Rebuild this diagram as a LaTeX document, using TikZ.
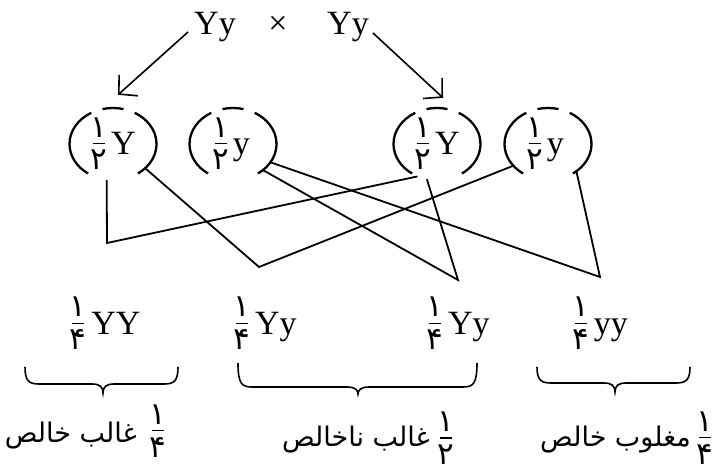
\documentclass[tikz,border=0pt]{standalone}
\usepackage{fontspec}
\setmainfont{Liberation Serif}
\newfontfamily\arabicfont[Script=Arabic]{DejaVu Sans}
\TeXXeTstate=1
\usetikzlibrary{arrows.meta,shapes.geometric}
\newcommand\dig[1]{\mbox{\arabicfont\fontsize{31}{31}\selectfont #1}}
\newcommand\fr[3][-15pt]{\raisebox{#1}{\vbox{\offinterlineskip\halign{\hfil##\hfil\cr\dig{#2}\cr\noalign{\kern6pt}\rule{12pt}{1.2pt}\cr\noalign{\kern6pt}\dig{#3}\cr}}}}
\newcommand\mybrace[6]{\draw[brc] (#1,#4) .. controls (#1,#5+3) and (#1+4,#5) .. (#1+14,#5) -- (#3-11,#5) .. controls (#3-3,#5) and (#3,#5-3) .. (#3,#6) .. controls (#3,#5-3) and (#3+3,#5) .. (#3+11,#5) -- (#2-14,#5) .. controls (#2-4,#5) and (#2,#5+3) .. (#2,#4);}
\begin{document}
\begin{tikzpicture}[x=1pt,y=1pt,
  lat/.style={font=\fontsize{34}{40}\selectfont, inner sep=0pt, anchor=base},
  arl/.style={font=\arabicfont\fontsize{27}{30}\selectfont, inner sep=0pt, anchor=base east},
  frn/.style={inner sep=0pt},
  arcline/.style={line width=2.3pt},
  conn/.style={line width=1.8pt},
  arr/.style={line width=1.6pt,-{Straight Barb[length=13pt,width=28pt,line width=1.6pt]}},
  brc/.style={line width=1.6pt},
  gam/.style={ellipse, minimum width=87pt, minimum height=72pt, inner sep=0pt}]
\useasboundingbox (0,0) rectangle (713,474);
% parents
\node[lat] (p1) at (215,439) {Yy};
\node[lat] (x) at (278,439) {×};
\node[lat] (p2) at (348,439) {Yy};
% gametes
\node[gam] (e1) at (113,330) {};
\node[gam] (e2) at (233,330) {};
\node[gam] (e3) at (437,330) {};
\node[gam] (e4) at (548,330) {};
\foreach \e in {e1,e2,e3,e4}{
  \draw[arcline] (\e.center) ++(120:43.5 and 36) arc[start angle=120,end angle=235,x radius=43.5,y radius=36];
  \draw[arcline] (\e.center) ++(-55:43.5 and 36) arc[start angle=-55,end angle=60,x radius=43.5,y radius=36];
  \draw[arcline] (\e.center) ++(76:43.5 and 36) arc[start angle=76,end angle=104,x radius=43.5,y radius=36];
}
\node[lat] (t1) at (113,319) {\fr{۱}{۲}\kern4pt Y};
\node[lat] (t2) at (231,319) {\fr{۱}{۲}\kern4pt y};
\node[lat] (t3) at (437,319) {\fr{۱}{۲}\kern4pt Y};
\node[lat] (t4) at (545,319) {\fr{۱}{۲}\kern4pt y};
% arrows
\draw[arr] ([shift={(-6pt,3pt)}]p1.base west) -- ([shift={(5pt,13pt)}]e1.north);
\draw[arr] ([shift={(4pt,2pt)}]p2.base east) -- ([shift={(6pt,10pt)}]e3.north);
% junctions
\coordinate (j1) at (107,231);
\coordinate (j2) at (259,207);
\coordinate (j3) at (458,194);
\coordinate (j4) at (600,197);
\draw[conn] (e1.260) -- (j1) -- (e3.239);
\draw[conn] (e1.-37) -- (j2) -- (e4.212);
\draw[conn] (e2.-41) -- (j3) -- (e3.254);
\draw[conn] (e2.-26) -- (j4) -- (e4.-44);
% offspring
\node[lat] (o1) at (105,139) {\fr{۱}{۴}\kern5pt YY};
\node[lat] (o2) at (265,139) {\fr{۱}{۴}\kern5pt Yy};
\node[lat] (o3) at (458,139) {\fr{۱}{۴}\kern5pt Yy};
\node[lat] (o4) at (600,139) {\fr{۱}{۴}\kern5pt yy};
% braces
\mybrace{25}{178}{103}{107}{90}{81}
\mybrace{238}{477}{358}{111}{87}{80}
\mybrace{537}{690}{615}{107}{91}{82}
% labels
\node[arl] (l1) at (137,31) {\beginR غالب خالص\endR};
\node[frn] (f1) at (158,43) {\fr[0pt]{۱}{۴}};
\node[arl] (l2) at (430,27) {\beginR غالب ناخالص\endR};
\node[frn] (f2) at (446,36) {\fr[0pt]{۱}{۲}};
\node[arl] (l3) at (691,27) {\beginR مغلوب خالص\endR};
\node[frn] (f3) at (705,36) {\fr[0pt]{۱}{۴}};
\end{tikzpicture}
\end{document}
